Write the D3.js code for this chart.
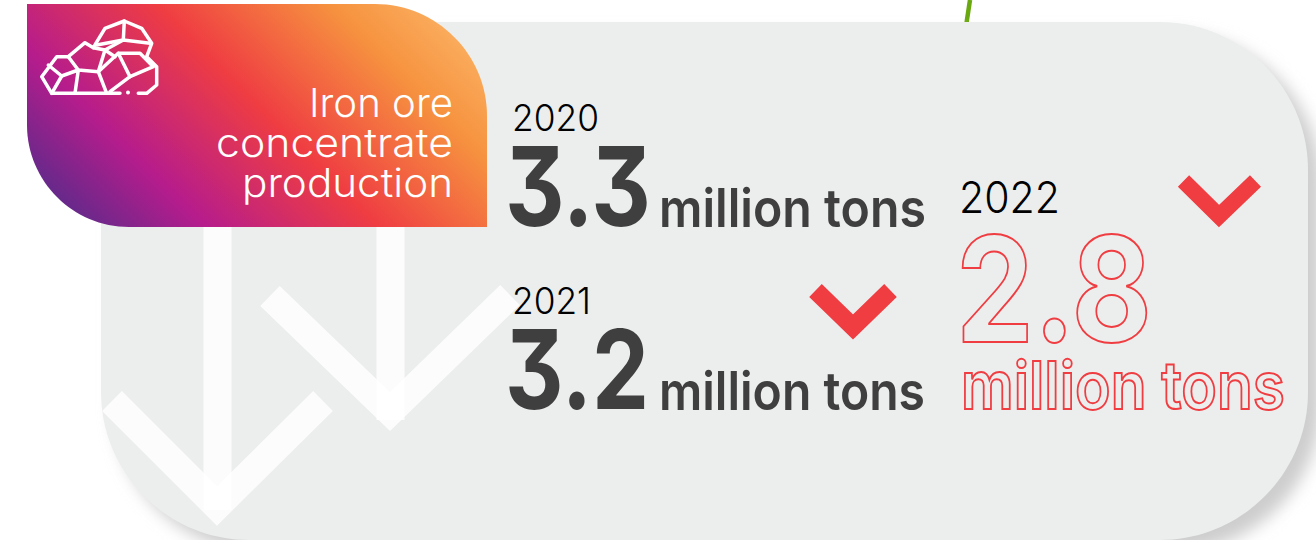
<!DOCTYPE html>
<html>
<head>
<meta charset="utf-8">
<style>
html,body{margin:0;padding:0;background:#fff;overflow:hidden}
svg{display:block}
text{font-family:Inter,Lato,sans-serif;font-feature-settings:"cv09" 1}
</style>
<script src="https://cdn.jsdelivr.net/npm/d3@7/dist/d3.min.js"></script>
</head>
<body>
<div id="chart"></div>
<script>
// Production figures
const years = ["2020", "2021", "2022"];
const production = [3.3, 3.2, 2.8];
const unit = "million tons";
const titleLines = ["Iron ore", "concentrate", "production"];
const gradientColors = ["#5f2a8a", "#b61c8c", "#ef3d42", "#f6923f", "#fbb465"];
const gradientStops = [0.03, 0.24, 0.52, 0.8, 1];

const W = 1316, H = 540;
const svg = d3.select("#chart").append("svg").attr("width", W).attr("height", H);
const defs = svg.append("defs");

// Rounded rectangle with an individual radius per corner (tl, tr, br, bl)
function roundedBox(x0, y0, x1, y1, [tl, tr, br, bl]) {
  const p = d3.path();
  p.moveTo(x0 + tl, y0);
  p.lineTo(x1 - tr, y0);
  p.bezierCurveTo(x1 - tr * .45, y0, x1, y0 + tr * .45, x1, y0 + tr);
  p.lineTo(x1, y1 - br);
  p.bezierCurveTo(x1, y1 - br * .45, x1 - br * .45, y1, x1 - br, y1);
  p.lineTo(x0 + bl, y1);
  p.bezierCurveTo(x0 + bl * .45, y1, x0, y1 - bl * .45, x0, y1 - bl);
  p.lineTo(x0, y0 + tl);
  if (tl) p.bezierCurveTo(x0, y0 + tl * .45, x0 + tl * .45, y0, x0 + tl, y0);
  p.closePath();
  return p.toString();
}

const panelPath = roundedBox(101, 22, 1308, 540, [148, 148, 148, 148]);

defs.append("filter").attr("id", "soft")
  .attr("x", "-5%").attr("y", "-5%").attr("width", "110%").attr("height", "110%")
  .append("feGaussianBlur").attr("stdDeviation", 8);
defs.append("clipPath").attr("id", "panelClip").append("path").attr("d", panelPath);

const grad = defs.append("linearGradient").attr("id", "badgeFill")
  .attr("gradientUnits", "userSpaceOnUse")
  .attr("x1", 35).attr("y1", 205).attr("x2", 345).attr("y2", -105);
grad.selectAll("stop").data(gradientColors).join("stop")
  .attr("offset", (d, i) => gradientStops[i])
  .attr("stop-color", d => d);

// Stem running in from above the panel
svg.append("path").attr("d", "M970,0 L966.5,23")
  .attr("stroke", "#69a80e").attr("stroke-width", 4.5).attr("fill", "none");

// Panel with its soft drop shadow
svg.append("path").attr("d", panelPath).attr("fill", "#cdcdcd")
  .attr("transform", "translate(13,12)").attr("filter", "url(#soft)");
svg.append("path").attr("d", panelPath).attr("fill", "#eceeed");

// Pale background arrows
const line = d3.line();
const ghost = svg.append("g").attr("clip-path", "url(#panelClip)")
  .attr("fill", "none").attr("stroke", "#fff").attr("stroke-opacity", .82)
  .attr("stroke-width", 28).attr("stroke-linejoin", "miter");
[
  { shaft: [[217.5, 227], [217.5, 510]], head: [[112, 401], [217, 506], [323, 401]] },
  { shaft: [[390.5, 227], [390.5, 420]], head: [[270, 296], [390, 411.5], [510, 295]] }
].forEach(a => {
  ghost.append("path").attr("d", line(a.shaft));
  ghost.append("path").attr("d", line(a.head));
});

// Title badge
svg.append("path").attr("d", roundedBox(27, 4, 487, 227, [0, 112, 0, 102]))
  .attr("fill", "url(#badgeFill)");
const titleWidths = [144, 237, 211];
svg.append("g").selectAll("text").data(titleLines).join("text")
  .attr("x", (d, i) => 453 - titleWidths[i])
  .attr("y", (d, i) => 117 + i * 40)
  .attr("fill", "#fff").attr("font-size", 39).attr("font-weight", 300)
  .attr("textLength", (d, i) => titleWidths[i]).attr("lengthAdjust", "spacingAndGlyphs")
  .text(d => d);

// Ore icon
const iconLines = [
  "M120,93.3 L51.7,93.3 L41.7,76.7 L56.7,56.7 L68.3,56.7 L85,42.7 L93.3,47.7 L105,28.3 L124.3,21 L141.7,28.3 L151.7,43.3 L146.7,56.7 L156.7,66.7 L156.7,85 L146.7,93.3 L138.3,93.3",
  "M48.3,65 L61.7,76 L51.7,93.3",
  "M61.7,76 L78.3,70 L75,93.3",
  "M68.3,56.7 L78.3,70 L98.3,71.7 L106.7,93.3",
  "M98.3,71.7 L118.3,53.3 L140,53.3 L153.3,66.7 L130,76.7 L110,91.7",
  "M118.3,53.3 L130,76.7",
  "M98.3,71.7 L105,50 L93.3,47.7",
  "M105,50 L115,56.7",
  "M96.7,45 L123.3,40 L150,43.3",
  "M124.3,21 L123.3,40 L105,50"
];
svg.append("g").attr("fill", "none").attr("stroke", "#fff").attr("stroke-width", 3.5)
  .attr("stroke-linejoin", "round").attr("stroke-linecap", "round")
  .selectAll("path").data(iconLines).join("path").attr("d", d => d);
svg.append("circle").attr("cx", 128).attr("cy", 92.5).attr("r", 2).attr("fill", "#fff");

// Year-by-year figures
const layout = d3.scaleOrdinal().domain(years).range([
  { yearX: 512, yearY: 131, yearSize: 37, yearW: 87, numX: 505, numY: 226, numW: 146, numSize: 110, unitX: 659, unitY: 227, unitW: 267, unitSize: 53 },
  { yearX: 512, yearY: 314, yearSize: 37, yearW: 79, numX: 505, numY: 409, numW: 144, numSize: 110, unitX: 659, unitY: 410, unitW: 266, unitSize: 53 },
  { yearX: 959, yearY: 213, yearSize: 43, yearW: 101, numX: 956, numY: 342, numW: 196, numSize: 146, unitX: 961, unitY: 409, unitW: 324, unitSize: 66, outlined: true }
]);

const rows = years.map((y, i) => ({ year: y, value: production[i], pos: layout(y) }));
const row = svg.append("g").selectAll("g").data(rows).join("g");

row.append("text")
  .attr("x", d => d.pos.yearX).attr("y", d => d.pos.yearY)
  .attr("font-size", d => d.pos.yearSize).attr("font-weight", 300).attr("fill", "#000")
  .attr("textLength", d => d.pos.yearW).attr("lengthAdjust", "spacingAndGlyphs")
  .text(d => d.year);

const styled = sel => sel
  .attr("fill", d => d.pos.outlined ? "none" : "#3f3f3f")
  .attr("stroke", d => d.pos.outlined ? "#ef3d42" : "none")
  .attr("stroke-width", d => d.pos.outlined ? 2 : 0);

row.append("text")
  .attr("x", d => d.pos.numX).attr("y", d => d.pos.numY)
  .attr("font-size", d => d.pos.numSize)
  .attr("font-weight", 700)
  .attr("textLength", d => d.pos.numW).attr("lengthAdjust", "spacingAndGlyphs")
  .call(styled)
  .text(d => d3.format(".1f")(d.value));

row.append("text")
  .attr("x", d => d.pos.unitX).attr("y", d => d.pos.unitY)
  .attr("font-size", d => d.pos.unitSize).attr("font-weight", 600)
  .attr("textLength", d => d.pos.unitW).attr("lengthAdjust", "spacingAndGlyphs")
  .call(styled)
  .text(unit);

// Decline markers
[
  { pts: [[815.5, 290.5], [853, 327], [890.5, 290.5]], w: 18 },
  { pts: [[1183.5, 181], [1219, 216], [1255.5, 181]], w: 16 }
].forEach(m => {
  svg.append("path").attr("d", line(m.pts)).attr("fill", "none")
    .attr("stroke", "#ef3d42").attr("stroke-width", m.w).attr("stroke-linejoin", "miter");
});
</script>
</body>
</html>
